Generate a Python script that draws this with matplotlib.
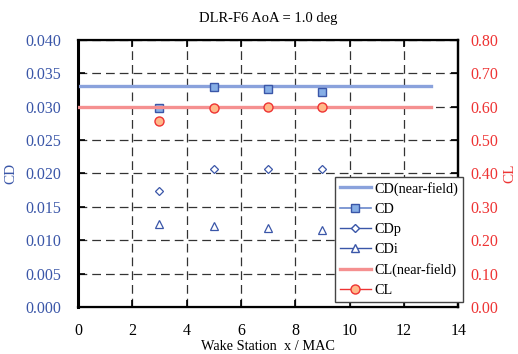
import matplotlib.pyplot as plt
from matplotlib.lines import Line2D

plt.rcParams['font.family'] = ['Liberation Serif', 'DejaVu Serif']

# wake station positions (x / MAC)
stations = [3, 5, 7, 9]
cd = [0.02975, 0.0329, 0.0327, 0.0322]
cdp = [0.0173, 0.0206, 0.0207, 0.0207]
cdi = [0.0124, 0.0121, 0.0119, 0.0116]
cl = [0.558, 0.595, 0.599, 0.599]

# near-field reference values
nf_x = [0, 13]
cd_nf = [0.0331, 0.0331]
cl_nf = [0.598, 0.598]

blue = '#3a56a8'
red = '#ee3333'

fig = plt.figure(figsize=(5.18, 3.54), dpi=100)
ax = fig.add_axes([0.1506, 0.133, 0.734, 0.754])
ax2 = ax.twinx()

ax.plot(nf_x, cd_nf, color='#8aa2dc', lw=2.4, zorder=3)
ax.plot(stations, cd, ls='none', marker='s', ms=6, mfc='#86aee6', mec=blue, mew=1, zorder=4)
ax.plot(stations, cdp, ls='none', marker='D', ms=4.5, mfc='white', mec=blue, mew=0.9, zorder=4)
ax.plot(stations, cdi, ls='none', marker='^', ms=6, mfc='white', mec=blue, mew=0.9, zorder=4)
ax2.plot(nf_x, cl_nf, color='#f59090', lw=2.4, zorder=3)
ax2.plot(stations, cl, ls='none', marker='o', ms=6.5, mfc='#ffb98a', mec=red, mew=1, zorder=4)

ax.set_xlim(0, 14)
ax.set_ylim(0, 0.04)
ax2.set_ylim(0, 0.8)
ax.set_xticks(range(0, 15, 2))
ax.set_yticks([i * 0.005 for i in range(9)])
ax2.set_yticks([i * 0.1 for i in range(9)])
ax.set_yticklabels(['%.3f' % (i * 0.005) for i in range(9)])
ax2.set_yticklabels(['%.2f' % (i * 0.1) for i in range(9)])

ax.grid(True, color='#333333', linestyle=(0, (7, 4)), linewidth=0.9)
ax.tick_params(axis='both', direction='in', length=5, width=1.2, labelsize=11.5, top=True)
ax.tick_params(axis='x', pad=11.5)
ax.tick_params(axis='y', colors='black', labelcolor=blue, pad=12)
ax2.tick_params(axis='y', direction='in', length=5, width=1.2, labelsize=11.5, labelcolor=red, pad=9)
for s in ax.spines.values():
    s.set_linewidth(1.6)
ax.spines['left'].set_linewidth(2.2)
ax2.spines['right'].set_linewidth(1.6)

ax.set_xlabel('Wake Station  x / MAC', fontsize=10.3)
ax.xaxis.set_label_coords(0.5, -0.124)
ax.set_ylabel('CD', color=blue, fontsize=11, labelpad=6)
ax2.set_ylabel('CL', color=red, fontsize=11)
ax2.yaxis.set_label_coords(1.12, 0.5)
ax.set_title('DLR-F6 AoA = 1.0 deg', fontsize=10.5, pad=13)

handles = [
    Line2D([0], [0], color='#8aa2dc', lw=2.4),
    Line2D([0], [0], color='#6a88cc', lw=1.2, marker='s', ms=6, mfc='#86aee6', mec=blue),
    Line2D([0], [0], color=blue, lw=1.0, marker='D', ms=4.5, mfc='white', mec=blue),
    Line2D([0], [0], color=blue, lw=1.0, marker='^', ms=6, mfc='white', mec=blue),
    Line2D([0], [0], color='#f59090', lw=2.4),
    Line2D([0], [0], color=red, lw=1.0, marker='o', ms=6.5, mfc='#ffb98a', mec=red),
]
labels = ['CD(near-field)', 'CD', 'CDp', 'CDi', 'CL(near-field)', 'CL']
leg = ax2.legend(handles, labels, loc='lower right', bbox_to_anchor=(1.013, 0.019),
                 fontsize=10.2, frameon=True, fancybox=False, framealpha=1,
                 edgecolor='#444444', handlelength=2.2, labelspacing=0.5,
                 borderpad=0.35, handletextpad=0.25, borderaxespad=0)
leg.get_frame().set_linewidth(1.0)

fig.savefig('out.png', dpi=100)
